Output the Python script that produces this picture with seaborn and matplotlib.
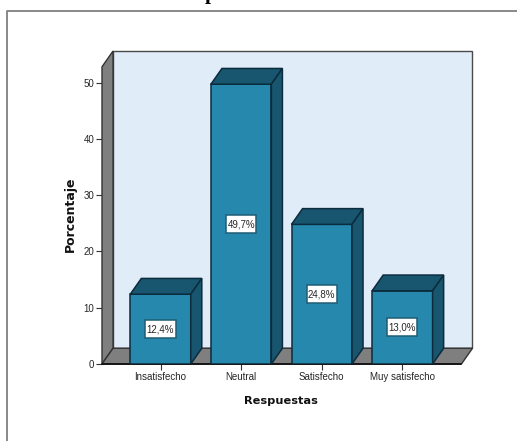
import matplotlib
matplotlib.use("Agg")
import matplotlib.pyplot as plt
from matplotlib.lines import Line2D
from matplotlib.patches import Polygon, Rectangle
import pandas as pd
import seaborn as sns

categories = ["Insatisfecho", "Neutral", "Satisfecho", "Muy satisfecho"]
percentages = [12.4, 49.7, 24.8, 13.0]
value_labels = ["12,4%", "49,7%", "24,8%", "13,0%"]
y_ticks = [0, 10, 20, 30, 40, 50]

W, H = 517, 441
FRONT_FACE = "#2688AD"
DARK_FACE = "#17566E"
EDGE = "#0C2B3D"
WALL = "#E1ECF9"
GREY = "#7F7F7F"
TEXT = "#262626"

sns.set_theme(style="white", rc={"font.family": ["Liberation Sans", "DejaVu Sans"]})

fig = plt.figure(figsize=(W / 100, H / 100), dpi=100, facecolor="white")
ax = fig.add_axes([102 / W, (H - 364) / H, 370.5 / W, 313 / H])

df = pd.DataFrame({"Respuestas": categories, "Porcentaje": percentages})
sns.barplot(data=df, x="Respuestas", y="Porcentaje", color=FRONT_FACE, saturation=1,
            width=0.75, edgecolor=EDGE, linewidth=1.1, zorder=4, ax=ax)

x_left, x_right = -0.726, 3.87
y_top = 55.6
ax.set_xlim(x_left, x_right)
ax.set_ylim(0, y_top)

# Oblique depth of the pseudo-3D box, in data units
dx = 0.137
dy = 2.8
x_front_right = x_right - dx

ax.add_patch(Polygon([(x_left + dx, dy), (x_right, dy), (x_right, y_top), (x_left + dx, y_top)],
                     closed=True, fc=WALL, ec="#4A4A4A", lw=1.0, zorder=1, clip_on=False))
ax.add_patch(Polygon([(x_left, 0), (x_left + dx, dy), (x_left + dx, y_top), (x_left, y_top - dy)],
                     closed=True, fc=GREY, ec="#333333", lw=1.0, zorder=2, clip_on=False))
ax.add_patch(Polygon([(x_left, 0), (x_front_right, 0), (x_right, dy), (x_left + dx, dy)],
                     closed=True, fc=GREY, ec="#333333", lw=1.0, zorder=2, clip_on=False))
ax.plot([x_left, x_front_right], [0, 0], color="#111111", lw=1.3, zorder=3, clip_on=False)

# Value boxes are slightly taller than the text's own padding would give
box_w = 0.375
box_h = 3.2

for bar, text in zip(list(ax.patches)[:len(categories)], value_labels):
    x0, w, h = bar.get_x(), bar.get_width(), bar.get_height()
    x1 = x0 + w
    ax.add_patch(Polygon([(x0, h), (x1, h), (x1 + dx, h + dy), (x0 + dx, h + dy)],
                         closed=True, fc=DARK_FACE, ec=EDGE, lw=1.1, zorder=4))
    ax.add_patch(Polygon([(x1, 0), (x1 + dx, dy), (x1 + dx, h + dy), (x1, h)],
                         closed=True, fc=DARK_FACE, ec=EDGE, lw=1.1, zorder=4))
    cx = x0 + w / 2
    ax.add_patch(Rectangle((cx - box_w / 2, h / 2 - box_h / 2), box_w, box_h,
                           fc="white", ec="#1F5C74", lw=1.1, zorder=5))
    ax.text(cx, h / 2, text, ha="center", va="center", fontsize=7, color=TEXT, zorder=6)

for spine in ax.spines.values():
    spine.set_visible(False)

ax.set_yticks(y_ticks)
ax.set_xticks(range(len(categories)))
ax.set_xticklabels(categories)
ax.tick_params(axis="both", which="major", bottom=True, left=True, length=4,
               width=0.8, color="#333333", labelsize=7, labelcolor=TEXT, pad=1.5)
ax.tick_params(axis="x", pad=2)

ax.set_xlabel("Respuestas", fontsize=8.2, fontweight="bold", family="DejaVu Sans", color="#111111")
ax.set_ylabel("Porcentaje", fontsize=9, fontweight="bold", family="DejaVu Sans", color="#111111")
to_axes = ax.transAxes.inverted()
ax.xaxis.set_label_coords(*to_axes.transform((281, H - 396.5)))
ax.yaxis.set_label_coords(*to_axes.transform((77, H - 214)))

# Frame around the chart, open on the right and at the bottom
fig.add_artist(Line2D([6.5 / W, 6.5 / W, 1], [0, (H - 10.5) / H, (H - 10.5) / H],
                      color="#808080", lw=1.3))

# Lower tail of the heading letter at the top edge
fig.text(211 / W, (H + 1.5) / H, "p", ha="center", va="baseline", fontsize=15,
         fontweight="bold", family="Liberation Serif", color="black")

fig.savefig("out.png", dpi=100)
